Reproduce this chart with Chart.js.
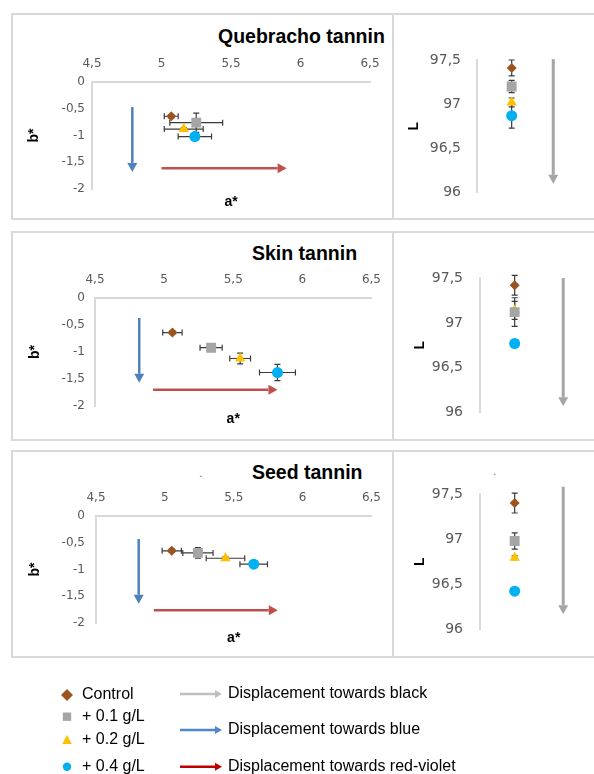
<!DOCTYPE html>
<html>
<head>
<meta charset="utf-8">
<script src="https://cdn.jsdelivr.net/npm/chart.js@4.4.1/dist/chart.umd.min.js"></script>
<style>
  html, body { margin: 0; padding: 0; background: #fff; }
  body { width: 594px; height: 774px; position: relative; overflow: hidden; font-family: 'Liberation Sans', Arial, sans-serif; }
  .box { position: absolute; left: 11px; width: 620px; border: 2px solid #d9d9d9; box-sizing: border-box; }
  .divider { position: absolute; left: 392px; width: 2px; background: #d9d9d9; }
  canvas { position: absolute; }
  .title { position: absolute; font-weight: bold; font-size: 19.5px; line-height: 1; color: #000; white-space: nowrap; }
  .dot { position: absolute; font-size: 12px; line-height: 1; color: #777; }
</style>
</head>
<body>

<div class="box" style="top:13px;height:207px"></div>
<div class="box" style="top:231px;height:210px"></div>
<div class="box" style="top:450px;height:208px"></div>
<div class="divider" style="top:13px;height:207px"></div>
<div class="divider" style="top:231px;height:210px"></div>
<div class="divider" style="top:450px;height:208px"></div>

<div class="title" id="t0" style="left:218px;top:26.5px"></div>
<div class="title" id="t1" style="left:252px;top:243.5px"></div>
<div class="title" id="t2" style="left:252px;top:463px"></div>
<div class="dot" style="left:199px;top:467px">.</div>
<div class="dot" style="left:493px;top:465px">.</div>

<canvas id="ab0" width="378" height="201" style="left:14px;top:16px"></canvas>
<canvas id="l0" width="200" height="201" style="left:394px;top:16px"></canvas>
<canvas id="ab1" width="378" height="204" style="left:14px;top:234px"></canvas>
<canvas id="l1" width="200" height="204" style="left:394px;top:234px"></canvas>
<canvas id="ab2" width="378" height="202" style="left:14px;top:453px"></canvas>
<canvas id="l2" width="200" height="202" style="left:394px;top:453px"></canvas>
<canvas id="legend" width="594" height="110" style="left:0;top:664px"></canvas>

<script>
// Series and panels
const seriesNames = ['Control', '+ 0.1 g/L', '+ 0.2 g/L', '+ 0.4 g/L'];
const panelTitles = ['Quebracho tannin', 'Skin tannin', 'Seed tannin'];
const arrowNames = ['Displacement towards black', 'Displacement towards blue', 'Displacement towards red-violet'];

// Tick labels
const aTicks = [4.5, 5, 5.5, 6, 6.5];
const bTicks = [-2, -1.5, -1, -0.5, 0];
const lTicks = [96, 96.5, 97, 97.5];

// Quebracho tannin
const quebrachoA = [5.07, 5.25, 5.16, 5.24];
const quebrachoAErr = [0.05, 0.19, 0.14, 0.12];
const quebrachoB = [-0.64, -0.76, -0.88, -1.02];
const quebrachoBErr = [0.03, 0.18, 0.03, 0.03];
const quebrachoL = [97.41, 97.20, 97.02, 96.87];
const quebrachoLErr = [0.09, 0.07, 0.05, 0.14];

// Skin tannin
const skinA = [5.06, 5.34, 5.55, 5.82];
const skinAErr = [0.07, 0.08, 0.075, 0.13];
const skinB = [-0.64, -0.92, -1.12, -1.38];
const skinBErr = [0.03, 0.03, 0.1, 0.15];
const skinL = [97.42, 97.12, 97.14, 96.77];
const skinLErr = [0.11, 0.16, 0.1, 0.04];

// Seed tannin
const seedA = [5.05, 5.24, 5.44, 5.645];
const seedAErr = [0.07, 0.11, 0.14, 0.10];
const seedB = [-0.65, -0.69, -0.79, -0.90];
const seedBErr = [0.03, 0.1, 0.03, 0.03];
const seedL = [97.40, 96.98, 96.795, 96.425];
const seedLErr = [0.11, 0.09, 0.02, 0.03];

// Displacement arrows, in axis units: [from, to]
const quebrachoBlue = [[4.79, -0.47], [4.79, -1.68]];
const quebrachoRed = [[5.0, -1.61], [5.9, -1.61]];
const quebrachoBlack = [[2.2, 97.51], [2.2, 96.10]];
const skinBlue = [[4.82, -0.37], [4.82, -1.57]];
const skinRed = [[4.92, -1.70], [5.82, -1.70]];
const skinBlack = [[2.4, 97.5], [2.4, 96.07]];
const seedBlue = [[4.81, -0.43], [4.81, -1.64]];
const seedRed = [[4.92, -1.76], [5.82, -1.76]];
const seedBlack = [[2.4, 97.58], [2.4, 96.17]];

// Styles
const colors = ['#9a5420', '#a5a5a5', '#ffc000', '#00b0f0'];
const pointStyles = ['rectRot', 'rect', 'triangle', 'circle'];
const pointRadius = [5, 7, 6, 5.5];
const arrowColors = { black: '#a6a6a6', blue: '#4f81bd', red: '#c0504d' };
const legendArrowColors = ['#bfbfbf', '#4f86d0', '#c00000'];
const tickColor = '#595959';
const axisColor = '#d9d9d9';
const tickFont = "'DejaVu Sans', sans-serif";

Chart.defaults.font.family = "'Liberation Sans', Arial, sans-serif";
Chart.defaults.animation = false;
Chart.defaults.plugins.legend.display = false;
Chart.defaults.plugins.tooltip.enabled = false;

const fmt = v => String(v).replace('.', ',');

function drawArrow(ctx, x0, y0, x1, y1, color, width, head, half) {
    const ang = Math.atan2(y1 - y0, x1 - x0);
    const bx = x1 - Math.cos(ang) * head, by = y1 - Math.sin(ang) * head;
    ctx.save();
    ctx.strokeStyle = color;
    ctx.fillStyle = color;
    ctx.lineWidth = width;
    ctx.beginPath();
    ctx.moveTo(x0, y0);
    ctx.lineTo(bx, by);
    ctx.stroke();
    ctx.beginPath();
    ctx.moveTo(x1, y1);
    ctx.lineTo(bx + Math.sin(ang) * half, by - Math.cos(ang) * half);
    ctx.lineTo(bx - Math.sin(ang) * half, by + Math.cos(ang) * half);
    ctx.closePath();
    ctx.fill();
    ctx.restore();
}

// Error bars from xErr / yErr on each point
const errorBars = {
    id: 'errorBars',
    beforeDatasetsDraw(chart) {
        const { ctx } = chart;
        const xs = chart.scales.x, ys = chart.scales.y;
        const cap = 3;
        ctx.save();
        ctx.strokeStyle = '#3a3a3a';
        ctx.lineWidth = 1.2;
        chart.data.datasets.forEach(ds => {
            const p = ds.data[0];
            const cx = xs.getPixelForValue(p.x), cy = ys.getPixelForValue(p.y);
            ctx.beginPath();
            if (p.xErr) {
                const x0 = xs.getPixelForValue(p.x - p.xErr), x1 = xs.getPixelForValue(p.x + p.xErr);
                ctx.moveTo(x0, cy); ctx.lineTo(x1, cy);
                ctx.moveTo(x0, cy - cap); ctx.lineTo(x0, cy + cap);
                ctx.moveTo(x1, cy - cap); ctx.lineTo(x1, cy + cap);
            }
            if (p.yErr) {
                const y0 = ys.getPixelForValue(p.y - p.yErr), y1 = ys.getPixelForValue(p.y + p.yErr);
                ctx.moveTo(cx, y0); ctx.lineTo(cx, y1);
                ctx.moveTo(cx - cap, y0); ctx.lineTo(cx + cap, y0);
                ctx.moveTo(cx - cap, y1); ctx.lineTo(cx + cap, y1);
            }
            ctx.stroke();
        });
        ctx.restore();
    }
};

// Displacement arrows inside the plot
const arrows = {
    id: 'arrows',
    beforeDatasetsDraw(chart, args, opts) {
        const xs = chart.scales.x, ys = chart.scales.y;
        (opts.list || []).forEach(a => {
            drawArrow(chart.ctx,
                xs.getPixelForValue(a.pts[0][0]), ys.getPixelForValue(a.pts[0][1]),
                xs.getPixelForValue(a.pts[1][0]), ys.getPixelForValue(a.pts[1][1]),
                a.color, a.width, 9, 5);
        });
    }
};

// "a*" under the plot (x axis sits on top)
const axisNote = {
    id: 'axisNote',
    afterDraw(chart, args, opts) {
        if (!opts.text) return;
        const { ctx, chartArea } = chart;
        ctx.save();
        ctx.font = "bold 14px 'Liberation Sans', Arial, sans-serif";
        ctx.fillStyle = '#000';
        ctx.textAlign = 'center';
        ctx.textBaseline = 'middle';
        ctx.fillText(opts.text, (chartArea.left + chartArea.right) / 2, chartArea.bottom + opts.gap);
        ctx.restore();
    }
};

function makeDatasets(xs, xErr, ys, yErr) {
    return seriesNames.map((name, i) => ({
        label: name,
        data: [{ x: xs[i], y: ys[i], xErr: xErr ? xErr[i] : 0, yErr: yErr[i] }],
        pointStyle: pointStyles[i],
        pointRadius: pointRadius[i],
        backgroundColor: colors[i],
        borderColor: colors[i],
        borderWidth: 0
    }));
}

function abChart(id, a, aErr, b, bErr, blue, red, g) {
    return new Chart(document.getElementById(id), {
        type: 'scatter',
        data: { datasets: makeDatasets(a, aErr, b, bErr) },
        options: {
            responsive: false,
            layout: { padding: { left: 0, top: 0, right: g.padRight, bottom: g.padBottom } },
            scales: {
                x: {
                    type: 'linear', position: 'top',
                    min: aTicks[0], max: aTicks[aTicks.length - 1],
                    afterBuildTicks: s => { s.ticks = aTicks.map(v => ({ value: v })); },
                    afterFit: s => { s.height = g.xHeight; },
                    grid: { drawOnChartArea: false, drawTicks: false },
                    border: { color: axisColor, width: 2 },
                    ticks: { callback: fmt, color: tickColor, font: { family: tickFont, size: 12 }, padding: 11 }
                },
                y: {
                    type: 'linear',
                    min: bTicks[0], max: bTicks[bTicks.length - 1],
                    afterBuildTicks: s => { s.ticks = bTicks.map(v => ({ value: v })); },
                    afterFit: s => { s.width = g.yWidth; },
                    grid: { drawOnChartArea: false, drawTicks: false },
                    border: { color: axisColor, width: 2 },
                    ticks: { callback: fmt, color: tickColor, font: { family: tickFont, size: 12 }, padding: g.yPad },
                    title: { display: true, text: 'b*', color: '#000', font: { size: 14, weight: 'bold' }, padding: { top: g.titlePad, bottom: 0 } }
                }
            },
            plugins: {
                arrows: { list: [
                    { pts: blue, color: arrowColors.blue, width: 2.5 },
                    { pts: red, color: arrowColors.red, width: 2.5 }
                ] },
                axisNote: { text: 'a*', gap: g.noteGap }
            }
        },
        plugins: [arrows, errorBars, axisNote]
    });
}

function lChart(id, L, LErr, black, g) {
    const xPos = seriesNames.map(() => 1);
    return new Chart(document.getElementById(id), {
        type: 'scatter',
        data: { datasets: makeDatasets(xPos, null, L, LErr) },
        options: {
            responsive: false,
            layout: { padding: { left: 0, top: g.padTop, right: g.padRight, bottom: g.padBottom } },
            scales: {
                x: { type: 'linear', display: false, min: 0, max: 3 },
                y: {
                    type: 'linear',
                    min: lTicks[0], max: lTicks[lTicks.length - 1],
                    afterBuildTicks: s => { s.ticks = lTicks.map(v => ({ value: v })); },
                    afterFit: s => { s.width = g.yWidth; },
                    grid: { drawOnChartArea: false, drawTicks: false },
                    border: { color: axisColor, width: 2 },
                    ticks: { callback: fmt, color: tickColor, font: { family: tickFont, size: 14 }, padding: g.yPad },
                    title: { display: true, text: 'L', color: '#000', font: { size: 14, weight: 'bold' }, padding: { top: g.titlePad, bottom: 0 } }
                }
            },
            plugins: {
                arrows: { list: [{ pts: black, color: arrowColors.black, width: 3 }] }
            }
        },
        plugins: [arrows, errorBars]
    });
}

panelTitles.forEach((t, i) => { document.getElementById('t' + i).textContent = t; });

abChart('ab0', quebrachoA, quebrachoAErr, quebrachoB, quebrachoBErr, quebrachoBlue, quebrachoRed,
    { yWidth: 78, xHeight: 66, padRight: 22, padBottom: 28, yPad: 7, titlePad: 11.6, noteGap: 13 });
lChart('l0', quebrachoL, quebrachoLErr, quebrachoBlack,
    { yWidth: 83, padTop: 44, padBottom: 9, padRight: 13, yPad: 16, titlePad: 11.6 });

abChart('ab1', skinA, skinAErr, skinB, skinBErr, skinBlue, skinRed,
    { yWidth: 81, xHeight: 64, padRight: 19, padBottom: 32, yPad: 10, titlePad: 12.6, noteGap: 13 });
lChart('l1', skinL, skinLErr, skinBlack,
    { yWidth: 86, padTop: 44, padBottom: 13, padRight: 10, yPad: 17, titlePad: 17.6 });

abChart('ab2', seedA, seedAErr, seedB, seedBErr, seedBlue, seedRed,
    { yWidth: 82, xHeight: 63, padRight: 20, padBottom: 32, yPad: 11, titlePad: 12.6, noteGap: 15 });
lChart('l2', seedL, seedLErr, seedBlack,
    { yWidth: 86, padTop: 41, padBottom: 12, padRight: 10, yPad: 17, titlePad: 17.6 });

// Legend: markers on the left, arrow meanings on the right
(function drawLegend() {
    const ctx = document.getElementById('legend').getContext('2d');
    const rowY = [31, 52.7, 76, 102.7];
    const arrowY = [30, 66, 102.7];
    ctx.font = "16px 'Liberation Sans', Arial, sans-serif";
    ctx.textBaseline = 'middle';
    ctx.fillStyle = '#000';
    seriesNames.forEach((name, i) => {
        const x = 67, y = rowY[i];
        ctx.save();
        ctx.fillStyle = colors[i];
        ctx.beginPath();
        if (pointStyles[i] === 'rectRot') {
            ctx.moveTo(x, y - 6); ctx.lineTo(x + 6, y); ctx.lineTo(x, y + 6); ctx.lineTo(x - 6, y);
        } else if (pointStyles[i] === 'rect') {
            ctx.rect(x - 4.2, y - 4.2, 8.4, 8.4);
        } else if (pointStyles[i] === 'triangle') {
            ctx.moveTo(x, y - 5); ctx.lineTo(x + 4.8, y + 4); ctx.lineTo(x - 4.8, y + 4);
        } else {
            ctx.arc(x, y, 4.2, 0, Math.PI * 2);
        }
        ctx.closePath();
        ctx.fill();
        ctx.restore();
        ctx.fillText(name, 82, y);
    });
    arrowNames.forEach((name, i) => {
        drawArrow(ctx, 180, arrowY[i], 222, arrowY[i], legendArrowColors[i], 2.5, 7, 4);
        ctx.fillStyle = '#000';
        ctx.fillText(name, 228, arrowY[i]);
    });
})();
</script>
</body>
</html>
